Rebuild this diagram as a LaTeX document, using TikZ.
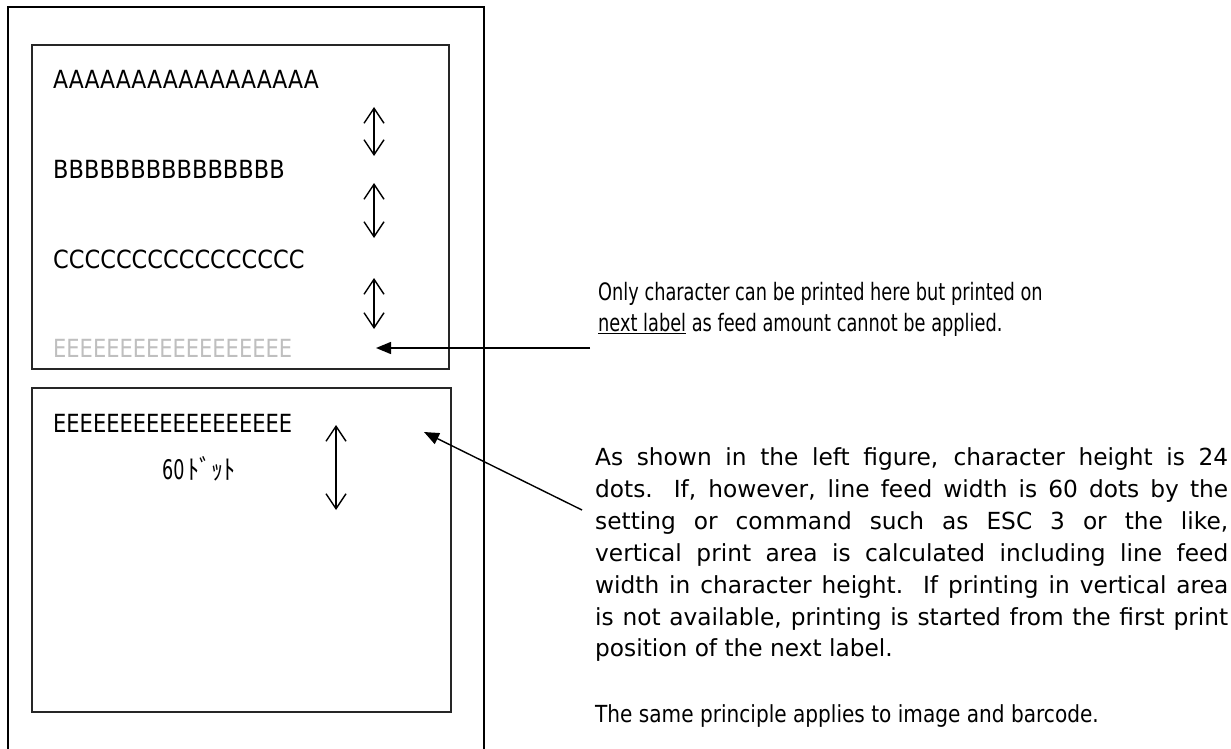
\documentclass[tikz,border=0pt]{standalone}
\usepackage{fontspec}
\setmainfont{DejaVu Sans}
\newfontfamily\labfont[FakeStretch=0.88]{DejaVu Sans}
\newfontfamily\bcfont[FakeStretch=0.9]{DejaVu Sans}
\newfontfamily\efont[FakeStretch=0.84]{DejaVu Sans}
\newfontfamily\digfont[FakeStretch=0.65]{DejaVu Sans}
\newfontfamily\onlyfont[FakeStretch=0.74]{DejaVu Sans}
\newfontfamily\parfont[FakeStretch=0.99]{DejaVu Sans}
\newfontfamily\samefont[FakeStretch=0.855]{DejaVu Sans}
\newfontfamily\jfont[FakeStretch=0.9]{Noto Sans CJK JP}
\usetikzlibrary{arrows.meta}
\begin{document}
\begin{tikzpicture}[x=1pt,y=-1pt,
  frame/.style={line width=2pt},
  lbox/.style={line width=1.6pt, draw=black!85},
  dbl/.style={line width=1.4pt, {Straight Barb[length=15pt,width=20pt]}-{Straight Barb[length=15pt,width=20pt]}},
  ptr/.style={line width=1.4pt, -{Triangle[length=15pt,width=12pt]}},
  lab/.style={anchor=base west, inner sep=0pt, font=\labfont\fontsize{25}{30}\selectfont},
  txt/.style={anchor=base west, inner sep=0pt, font=\fontsize{23.5}{31.8}\selectfont}]
\useasboundingbox (0,0) rectangle (1231,749);
\draw[frame] (7.5,749) -- (7.5,7.5) -- (483.5,7.5) -- (483.5,749);
\draw[lbox] (32,45) rectangle (449,369);
\draw[lbox] (32,388) rectangle (451,712);
% labels
\node[lab] (la) at (53,89) {AAAAAAAAAAAAAAAAA};
\node[lab, font=\bcfont\fontsize{25}{30}\selectfont] (lb) at (53,178) {BBBBBBBBBBBBBBB};
\node[lab, font=\bcfont\fontsize{25}{30}\selectfont] (lc) at (53,268) {CCCCCCCCCCCCCCCC};
\node[lab, text=black!25, font=\efont\fontsize{25}{30}\selectfont] (le1) at (53,357) {EEEEEEEEEEEEEEEEEE};
\node[lab, font=\efont\fontsize{25}{30}\selectfont] (le2) at (53,432) {EEEEEEEEEEEEEEEEEE};
\node[lab, font=\digfont\fontsize{27}{30}\selectfont] (dots) at (162,479) {60\hspace{3pt}{\jfont\fontsize{27}{30}\selectfont ﾄﾞｯﾄ}};
% double arrows
\coordinate (a1t) at (374,107); \coordinate (a1b) at (374,156);
\coordinate (a2t) at (374,183); \coordinate (a2b) at (374,238);
\coordinate (a3t) at (374,278); \coordinate (a3b) at (374,329);
\coordinate (a4t) at (336,425); \coordinate (a4b) at (336,510);
\draw[dbl] (a1t) -- (a1b);
\draw[dbl] (a2t) -- (a2b);
\draw[dbl] (a3t) -- (a3b);
\draw[dbl] (a4t) -- (a4b);
% right texts
\node[txt, font=\onlyfont\fontsize{24}{31.8}\selectfont] (n1) at (598,300) {Only character can be printed here but printed on};
\node[txt, font=\onlyfont\fontsize{24}{31.8}\selectfont] (n2) at (598,331) {\underline{next label} as feed amount cannot be applied.};
\coordinate (p1s) at (590,348); \coordinate (p1e) at (376,348);
\draw[ptr] (p1s) -- (p1e);
\begin{scope}[every node/.style={txt, font=\parfont\fontsize{23.5}{31.8}\selectfont}]
\node (q1) at (595,465) {\makebox[633pt][s]{As shown in the left figure, character height is 24}};
\node (q2) at (595,497) {\makebox[633pt][s]{dots.  If, however, line feed width is 60 dots by the}};
\node (q3) at (595,529) {\makebox[633pt][s]{setting or command such as ESC 3 or the like,}};
\node (q4) at (595,561) {\makebox[633pt][s]{vertical print area is calculated including line feed}};
\node (q5) at (595,593) {\makebox[633pt][s]{width in character height.\ \ If printing in vertical area}};
\node (q6) at (595,625) {\makebox[633pt][s]{is not available, printing is started from the first print}};
\node (q7) at (595,656) {position of the next label.};
\end{scope}
\node[txt, font=\samefont\fontsize{23.5}{31.8}\selectfont] (q8) at (595,722) {The same principle applies to image and barcode.};
\coordinate (p2s) at (582,510); \coordinate (p2e) at (424,432);
\draw[ptr] (p2s) -- (p2e);
\end{tikzpicture}
\end{document}
